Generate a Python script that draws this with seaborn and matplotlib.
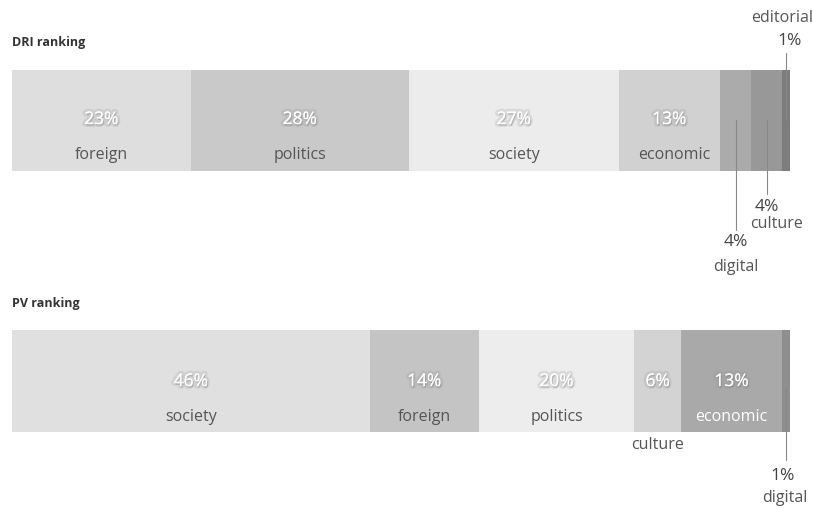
import matplotlib
matplotlib.use("Agg")
import matplotlib.pyplot as plt
import matplotlib.patheffects as pe
import numpy as np
import seaborn as sns

# data
dri_cats = ['foreign', 'politics', 'society', 'economic', 'digital', 'culture', 'editorial']
dri_vals = [23, 28, 27, 13, 4, 4, 1]
dri_cols = ['#dedede', '#c9c9c9', '#ececec', '#d1d1d1', '#ababab', '#989898', '#7d7d7d']

pv_cats = ['society', 'foreign', 'politics', 'culture', 'economic', 'digital']
pv_vals = [46, 14, 20, 6, 13, 1]
pv_cols = ['#e0e0e0', '#c4c4c4', '#ededed', '#d3d3d3', '#a9a9a9', '#8e8e8e']

sns.set_theme(style="white")
plt.rcParams['font.family'] = ['Open Sans', 'DejaVu Sans']

W, H = 813, 509
fig = plt.figure(figsize=(W / 100, H / 100), dpi=100)
ax = fig.add_axes([0, 0, 1, 1])
# 0..100 % -> 12..790 px
scale = 7.78
ax.set_xlim(-12 / scale, (W - 12) / scale)
ax.set_ylim(H, 0)
ax.axis('off')

shadow = [pe.withStroke(linewidth=4, foreground='#888888', alpha=0.18),
          pe.withSimplePatchShadow(offset=(0.8, -1.2), shadow_rgbFace='#666666', alpha=0.3)]
lab_col = '#555555'
num_col = '#444444'
fs = 11.5
fs_pct = 12.5


def px(x):
    return (x - 12) / scale


def stacked(vals, cols, yc, h):
    left = np.concatenate([[0], np.cumsum(vals)[:-1]])
    ax.barh([yc] * len(vals), vals, left=left, height=h, color=cols, edgecolor='none')
    return left


# DRI ranking
ax.text(px(12), 42, 'DRI ranking', fontsize=9, fontweight='bold', color='#333333', va='center')
left = stacked(dri_vals, dri_cols, 120.5, 101)
for i in range(4):
    c = left[i] + dri_vals[i] / 2
    ax.text(c, 120, f'{dri_vals[i]}%', fontsize=fs_pct, color='white', ha='center', va='center',
            path_effects=shadow)
    ax.text(c + (0.6 if i == 3 else 0), 155, dri_cats[i], fontsize=fs, color=lab_col,
            ha='center', va='center')

# outside labels for small DRI segments
c_dig = left[4] + dri_vals[4] / 2
c_cul = left[5] + dri_vals[5] / 2
c_edi = left[6] + dri_vals[6] / 2
ax.plot([c_dig, c_dig], [120, 230], color='#888888', lw=0.8)
ax.text(c_dig, 242, f'{dri_vals[4]}%', fontsize=fs_pct, color=num_col, ha='center', va='center')
ax.text(c_dig, 267, dri_cats[4], fontsize=fs, color=lab_col, ha='center', va='center')
ax.plot([c_cul, c_cul], [120, 194], color='#888888', lw=0.8)
ax.text(c_cul, 207, f'{dri_vals[5]}%', fontsize=fs_pct, color=num_col, ha='center', va='center')
ax.text(px(777), 224, dri_cats[5], fontsize=fs, color=lab_col, ha='center', va='center')
ax.plot([c_edi, c_edi], [53, 120], color='#888888', lw=0.8)
ax.text(px(790), 41, f'{dri_vals[6]}%', fontsize=fs_pct, color=num_col, ha='center', va='center')
ax.text(px(782), 18, dri_cats[6], fontsize=fs, color=lab_col, ha='center', va='center')

# PV ranking
ax.text(px(12), 303, 'PV ranking', fontsize=9, fontweight='bold', color='#333333', va='center')
left = stacked(pv_vals, pv_cols, 381, 102)
for i in range(5):
    c = left[i] + pv_vals[i] / 2
    ax.text(c, 382, f'{pv_vals[i]}%', fontsize=fs_pct, color='white', ha='center', va='center',
            path_effects=shadow)
    if i == 3:
        ax.text(c, 445, pv_cats[i], fontsize=fs, color=lab_col, ha='center', va='center')
    else:
        ax.text(c, 417, pv_cats[i], fontsize=fs,
                color='white' if i == 4 else lab_col, ha='center', va='center')

c_dig = left[5] + pv_vals[5] / 2
ax.plot([c_dig, c_dig], [388, 460], color='#888888', lw=0.8)
ax.text(px(783), 476, f'{pv_vals[5]}%', fontsize=fs_pct, color=num_col, ha='center', va='center')
ax.text(px(785), 498, pv_cats[5], fontsize=fs, color=lab_col, ha='center', va='center')

fig.savefig('out.png', dpi=100, facecolor='white')
